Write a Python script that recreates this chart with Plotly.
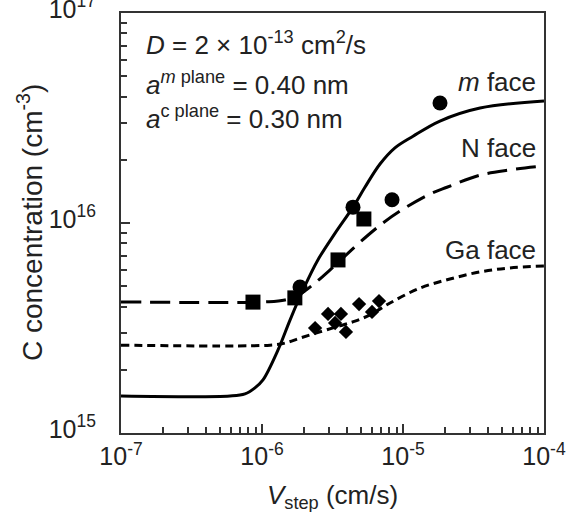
import plotly.graph_objects as go

# ---- data ----
# model curves (v_step in cm/s, C in cm^-3)
m_curve_v = [1.0e-7, 5.93e-7, 7.57e-7, 8.91e-7, 1.016e-6, 1.297e-6, 1.58e-6, 1.954e-6, 2.49e-6,
             3.30e-6, 4.42e-6, 5.37e-6, 6.87e-6, 8.77e-6, 1.178e-5, 1.828e-5, 3.52e-5, 1.0e-4]
m_curve_c = [1.50e15, 1.50e15, 1.535e15, 1.64e15, 1.79e15, 2.48e15, 3.45e15, 4.80e15, 6.67e15,
             8.95e15, 1.19e16, 1.48e16, 1.91e16, 2.28e16, 2.59e16, 3.06e16, 3.53e16, 3.81e16]

n_curve_v = [1.0e-7, 1.05e-6, 1.455e-6, 1.862e-6, 2.377e-6, 3.03e-6, 4.01e-6, 5.56e-6, 7.21e-6,
             9.53e-6, 1.552e-5, 2.05e-5, 3.52e-5, 5.74e-5, 1.0e-4]
n_curve_c = [4.21e15, 4.21e15, 4.30e15, 4.59e15, 5.18e15, 5.97e15, 7.11e15, 8.67e15, 1.0e16,
             1.14e16, 1.374e16, 1.48e16, 1.69e16, 1.79e16, 1.87e16]

ga_curve_v = [1.0e-7, 1.14e-6, 1.455e-6, 1.862e-6, 2.58e-6, 3.57e-6, 4.57e-6, 5.83e-6, 8.09e-6,
              1.321e-5, 2.15e-5, 3.52e-5, 5.74e-5, 1.0e-4]
ga_curve_c = [2.62e15, 2.62e15, 2.68e15, 2.83e15, 3.03e15, 3.24e15, 3.41e15, 3.65e15, 4.16e15,
              4.90e15, 5.41e15, 5.85e15, 6.11e15, 6.24e15]

# measured points
m_pts_v = [1.86e-6, 4.42e-6, 8.36e-6, 1.83e-5]
m_pts_c = [4.96e15, 1.19e16, 1.29e16, 3.73e16]

n_pts_v = [8.63e-7, 1.71e-6, 3.46e-6, 5.28e-6]
n_pts_c = [4.20e15, 4.40e15, 6.67e15, 1.045e16]

ga_pts_v = [2.38e-6, 2.94e-6, 3.63e-6, 3.30e-6, 3.94e-6, 4.88e-6, 6.03e-6, 6.76e-6]
ga_pts_c = [3.16e15, 3.69e15, 3.69e15, 3.34e15, 3.03e15, 4.11e15, 3.77e15, 4.25e15]

x_tickvals = [1e-7, 1e-6, 1e-5, 1e-4]
x_ticktext = ["10<sup>-7</sup>", "10<sup>-6</sup>", "10<sup>-5</sup>", "10<sup>-4</sup>"]
y_tickvals = [1e15, 1e16, 1e17]
y_ticktext = ["10<sup>15</sup>", "10<sup>16</sup>", "10<sup>17</sup>"]
mantissas = [2, 3, 4, 5, 6, 7, 8, 9]
x_minor = [m * d for d in [1e-7, 1e-6, 1e-5] for m in mantissas]
y_minor = [m * d for d in [1e15, 1e16] for m in mantissas]

FONT = "Liberation Sans, Arial, sans-serif"
FS = 26
TFS = 25

fig = go.Figure()
fig.add_trace(go.Scatter(x=m_curve_v, y=m_curve_c, mode="lines", line=dict(color="black", width=3, shape="spline")))
fig.add_trace(go.Scatter(x=n_curve_v, y=n_curve_c, mode="lines",
                         line=dict(color="black", width=3, dash="20px,9px", shape="spline")))
fig.add_trace(go.Scatter(x=ga_curve_v, y=ga_curve_c, mode="lines",
                         line=dict(color="black", width=3, dash="8px,5px", shape="spline")))
fig.add_trace(go.Scatter(x=m_pts_v, y=m_pts_c, mode="markers", marker=dict(symbol="circle", size=15, color="black")))
fig.add_trace(go.Scatter(x=n_pts_v, y=n_pts_c, mode="markers", marker=dict(symbol="square", size=15, color="black")))
fig.add_trace(go.Scatter(x=ga_pts_v, y=ga_pts_c, mode="markers", marker=dict(symbol="diamond", size=11, color="black")))

axis_common = dict(type="log", showgrid=False, zeroline=False, showline=True, linecolor="#333",
                   linewidth=2, mirror=True, ticks="inside", ticklen=9, tickwidth=1.5, tickcolor="#333",
                   tickmode="array", automargin=False, ticklabeloverflow="allow",
                   tickfont=dict(family=FONT, size=TFS, color="#222"))

fig.update_xaxes(range=[-7.0001, -3.9999], tickvals=x_tickvals, ticktext=x_ticktext,
                 minor=dict(ticks="inside", ticklen=6, tickwidth=1.5, tickcolor="#333", tickvals=x_minor),
                 **axis_common)
fig.update_yaxes(range=[14.9999, 17.0001], tickvals=y_tickvals, ticktext=y_ticktext,
                 minor=dict(ticks="inside", ticklen=6, tickwidth=1.5, tickcolor="#333", tickvals=y_minor),
                 ticklabelstandoff=18, ticklabelshift=-4,
                 **axis_common)

ann_font = dict(family=FONT, size=FS, color="#222")
annos = [
    dict(x=0.055, y=0.928, text="<i>D</i> = 2 × 10<sup>-13</sup> cm<sup>2</sup>/s", xanchor="left"),
    dict(x=0.055, y=0.833, text="<i>a</i><sup><i>m</i> plane</sup> = 0.40 nm", xanchor="left"),
    dict(x=0.055, y=0.751, text="<i>a</i><sup>c plane</sup> = 0.30 nm", xanchor="left"),
    dict(x=0.985, y=0.836, text="<i>m</i> face", xanchor="right"),
    dict(x=0.985, y=0.679, text="N face", xanchor="right"),
    dict(x=0.985, y=0.436, text="Ga face", xanchor="right"),
    dict(x=0.5, y=-0.152, text="<i>V</i><sub>step</sub> (cm/s)", xanchor="center"),
]
for a in annos:
    fig.add_annotation(xref="paper", yref="paper", yanchor="middle", showarrow=False, font=ann_font, **a)
fig.add_annotation(xref="paper", yref="paper", x=-0.215, y=0.5, textangle=-90, xanchor="center",
                   yanchor="middle", showarrow=False, font=dict(family=FONT, size=28, color="#222"),
                   text="C concentration (cm<sup>-3</sup>)")

fig.update_layout(width=571, height=512, margin=dict(l=121, r=27, t=13, b=79),
                  plot_bgcolor="white", paper_bgcolor="white", showlegend=False)

# remove the browser's default page margin so the figure fills the window exactly
fig.write_html("out.html", config={"displayModeBar": False},
               post_script="document.body.style.margin='0px';")
